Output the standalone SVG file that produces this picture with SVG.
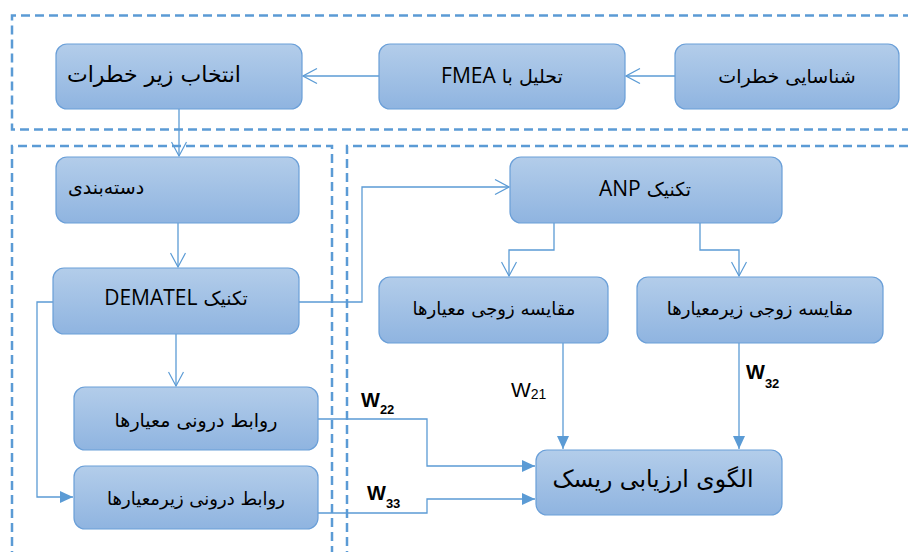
<svg xmlns="http://www.w3.org/2000/svg" width="908" height="552" viewBox="0 0 908 552">
<style>
.frame{fill:none;stroke:#5b9bd5;stroke-width:2.5;stroke-dasharray:9 5}
.box{fill:url(#g);stroke:#6a9fd8;stroke-width:1.2}
.t{font-family:"DejaVu Sans","Liberation Sans",sans-serif;font-size:19px;fill:#000}
.lat{font-family:"Open Sans","Liberation Sans",sans-serif;font-size:21px}
.c{text-anchor:middle}
.rtl{direction:rtl;unicode-bidi:embed}
.ln{fill:none;stroke:#5b9bd5;stroke-width:1.3}
.w{font-family:"Liberation Sans","DejaVu Sans",sans-serif;fill:#000}
</style>
<defs>
<linearGradient id="g" x1="0" y1="0" x2="0" y2="1">
<stop offset="0" stop-color="#b3cdea"/>
<stop offset="1" stop-color="#8fb4e0"/>
</linearGradient>
<marker id="open" viewBox="0 0 16 16" refX="15" refY="8" markerWidth="16" markerHeight="16" markerUnits="userSpaceOnUse" orient="auto">
<path d="M1,0.5 L15,8 L1,15.5" fill="none" stroke="#5b9bd5" stroke-width="1.2"/>
</marker>
<marker id="fill" viewBox="0 0 13 12" refX="13" refY="6" markerWidth="13" markerHeight="12" markerUnits="userSpaceOnUse" orient="auto">
<path d="M0,0 L13,6 L0,12 Z" fill="#5b9bd5"/>
</marker>
</defs>
<g id="frames">
<path class="frame" d="M912,15.5 H12 V129.5 H912"/>
<path class="frame" d="M12,560 V146 H332 V560"/>
<path class="frame" d="M347,560 V146 H912"/>
</g>
<g id="connectors">
<path class="ln" d="M675,76 H626" marker-end="url(#open)"/>
<path class="ln" d="M379,76 H303" marker-end="url(#open)"/>
<path class="ln" d="M179,109 V156" marker-end="url(#open)"/>
<path class="ln" d="M178,223 V267" marker-end="url(#open)"/>
<path class="ln" d="M299,302 H362 V187 H509" marker-end="url(#open)"/>
<path class="ln" d="M53,302 H37 V497 H73" marker-end="url(#fill)"/>
<path class="ln" d="M176,334 V386" marker-end="url(#open)"/>
<path class="ln" d="M554,223 V250 H509 V276" marker-end="url(#open)"/>
<path class="ln" d="M700,223 V250 H739 V276" marker-end="url(#open)"/>
<path class="ln" d="M563,343 V449" marker-end="url(#fill)"/>
<path class="ln" d="M739,343 V449" marker-end="url(#fill)"/>
<path class="ln" d="M318,419 H427 V466 H535" marker-end="url(#fill)"/>
<path class="ln" d="M318,513 H427 V499 H535" marker-end="url(#fill)"/>
</g>
<g id="labels">
<text class="w" x="511" y="397" font-size="21">W<tspan font-size="14" dy="2">21</tspan></text>
<text class="w" x="361" y="407" font-size="20" font-weight="bold">W<tspan font-size="13" dy="7">22</tspan></text>
<text class="w" x="367" y="500" font-size="20" font-weight="bold">W<tspan font-size="13" dy="8">33</tspan></text>
<text class="w" x="746" y="379" font-size="20" font-weight="bold">W<tspan font-size="13" dy="9">32</tspan></text>
</g>
<g id="n1"><rect class="box" x="675" y="44" width="224" height="65" rx="11"/><text class="t c" x="787" y="83">شناسایی خطرات</text></g>
<g id="n2"><rect class="box" x="379" y="44" width="246" height="65" rx="11"/><text class="t c rtl" x="502" y="83">تحلیل با <tspan class="lat">FMEA</tspan></text></g>
<g id="n3"><rect class="box" x="56" y="44" width="246" height="65" rx="11"/><text class="t" x="67" y="82" style="font-size:22px">انتخاب زیر خطرات</text></g>
<g id="n4"><rect class="box" x="56" y="157" width="243" height="66" rx="11"/><text class="t" x="68" y="194">دسته‌بندی</text></g>
<g id="n5"><rect class="box" x="53" y="268" width="246" height="66" rx="11"/><text class="t c rtl" x="176" y="305">تکنیک <tspan class="lat">DEMATEL</tspan></text></g>
<g id="n6"><rect class="box" x="74" y="387" width="244" height="63" rx="11"/><text class="t c" x="196" y="427">روابط درونی معیارها</text></g>
<g id="n7"><rect class="box" x="74" y="466" width="244" height="63" rx="11"/><text class="t c" x="196" y="505" style="font-size:18px">روابط درونی زیرمعیارها</text></g>
<g id="n8"><rect class="box" x="510" y="157" width="272" height="66" rx="11"/><text class="t c rtl" x="645" y="196">تکنیک <tspan class="lat">ANP</tspan></text></g>
<g id="n9"><rect class="box" x="379" y="277" width="229" height="66" rx="11"/><text class="t c" x="494" y="315" style="font-size:18px">مقایسه زوجی معیارها</text></g>
<g id="n10"><rect class="box" x="637" y="277" width="246" height="66" rx="11"/><text class="t c" x="760" y="315" style="font-size:18px">مقایسه زوجی زیرمعیارها</text></g>
<g id="n11"><rect class="box" x="536" y="450" width="246" height="65" rx="11"/><text class="t c" x="653" y="487" style="font-size:23.5px">الگوی ارزیابی ریسک</text></g>
</svg>
